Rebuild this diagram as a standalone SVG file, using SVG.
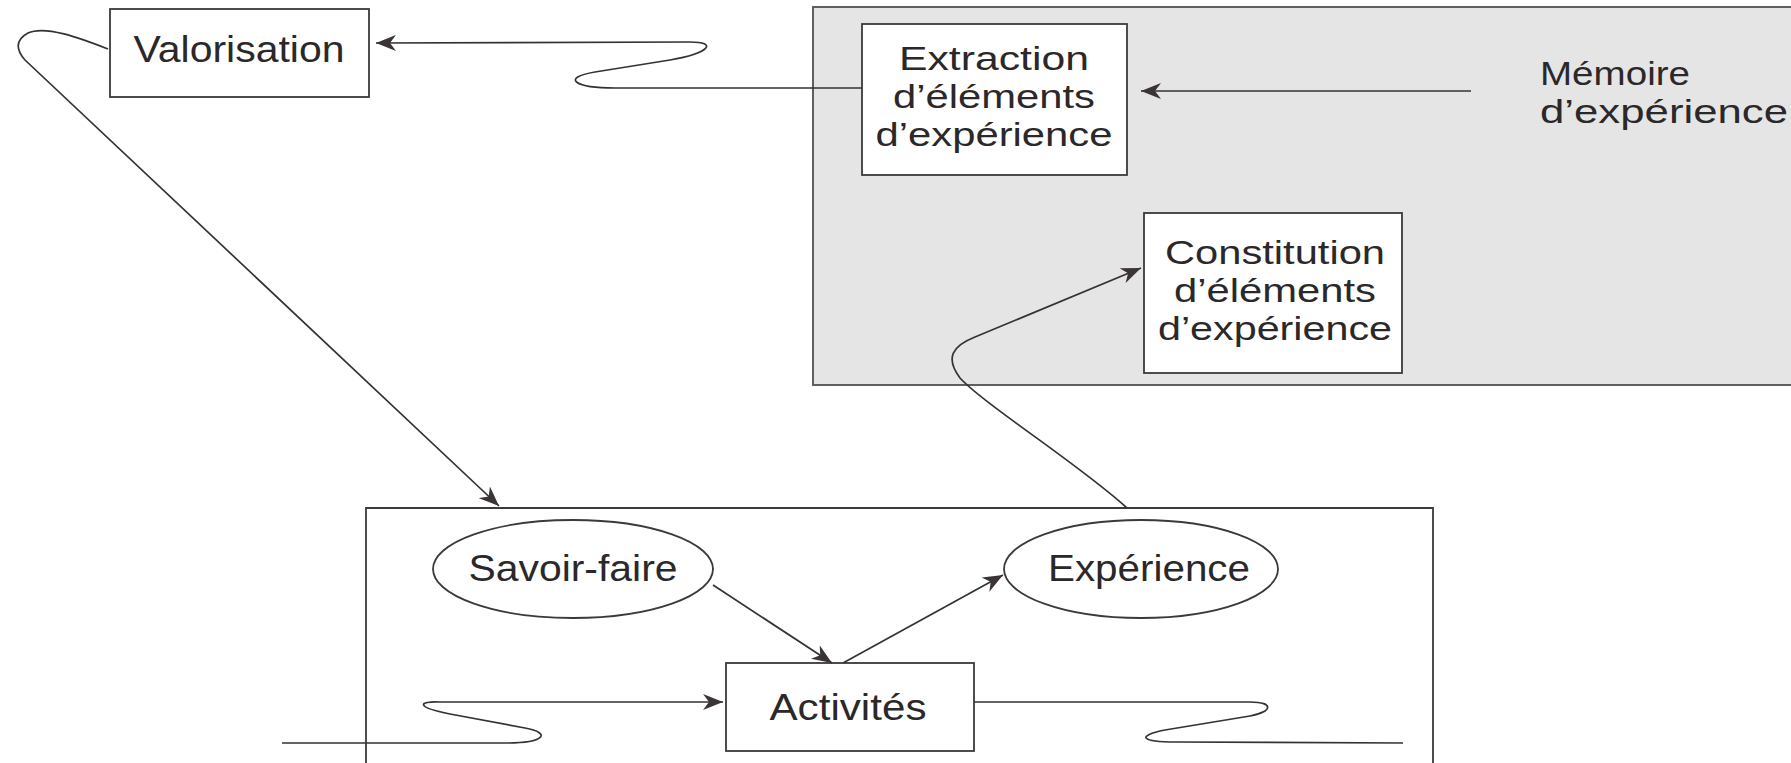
<svg xmlns="http://www.w3.org/2000/svg" width="1791" height="763" viewBox="0 0 1791 763">
<style>
  .box { fill: #ffffff; stroke: #3a3a3a; stroke-width: 1.8; }
  .zone { fill: #e5e5e5; stroke: #505050; stroke-width: 1.8; }
  .frame { fill: none; stroke: #3a3a3a; stroke-width: 1.8; }
  .lbl { font-family: "Liberation Sans", Arial, sans-serif; font-size: 36px; fill: #2b282a; text-anchor: middle; }
  .ml { font-family: "Liberation Sans", Arial, sans-serif; font-size: 34px; fill: #2b282a; text-anchor: middle; }
  .lbls { font-family: "Liberation Sans", Arial, sans-serif; font-size: 34px; fill: #2b282a; }
  .conn { fill: none; stroke: #333; stroke-width: 1.7; }
</style>
<defs>
  <marker id="arr" markerUnits="userSpaceOnUse" markerWidth="22" markerHeight="16" refX="20" refY="8" orient="auto">
    <path d="M0,0 L20,8 L0,16 L6,8 z" fill="#3a3338"/>
  </marker>
</defs>
<rect width="1791" height="763" fill="#ffffff"/>

<g id="memoire-zone">
  <rect class="zone" x="813" y="7" width="1000" height="378"/>
  <text class="lbls" x="1540" y="85" textLength="150" lengthAdjust="spacingAndGlyphs">Mémoire</text>
  <text class="lbls" x="1540" y="123" textLength="248" lengthAdjust="spacingAndGlyphs">d’expérience</text>
</g>

<g id="valorisation">
  <rect class="box" x="110" y="9" width="259" height="88"/>
  <text class="lbl" x="239" y="62" textLength="211" lengthAdjust="spacingAndGlyphs">Valorisation</text>
</g>

<g id="extraction">
  <rect class="box" x="862" y="24" width="265" height="151"/>
  <text class="ml" x="994" y="70" textLength="190" lengthAdjust="spacingAndGlyphs">Extraction</text>
  <text class="ml" x="994" y="108" textLength="202" lengthAdjust="spacingAndGlyphs">d’éléments</text>
  <text class="ml" x="994" y="146" textLength="237" lengthAdjust="spacingAndGlyphs">d’expérience</text>
</g>

<g id="constitution">
  <rect class="box" x="1144" y="213" width="258" height="160"/>
  <text class="ml" x="1275" y="264" textLength="220" lengthAdjust="spacingAndGlyphs">Constitution</text>
  <text class="ml" x="1275" y="302" textLength="202" lengthAdjust="spacingAndGlyphs">d’éléments</text>
  <text class="ml" x="1275" y="340" textLength="234" lengthAdjust="spacingAndGlyphs">d’expérience</text>
</g>

<g id="activity-frame">
  <path class="frame" d="M366,770 L366,508 L1433,508 L1433,770"/>
</g>

<g id="savoir-faire">
  <ellipse class="box" cx="573" cy="569" rx="140" ry="49"/>
  <text class="lbl" x="573" y="581" textLength="209" lengthAdjust="spacingAndGlyphs">Savoir-faire</text>
</g>

<g id="experience">
  <ellipse class="box" cx="1141" cy="569" rx="137" ry="49"/>
  <text class="lbl" x="1149" y="581" textLength="202" lengthAdjust="spacingAndGlyphs">Expérience</text>
</g>

<g id="activites">
  <rect class="box" x="726" y="663" width="248" height="88"/>
  <text class="lbl" x="848" y="720" textLength="157" lengthAdjust="spacingAndGlyphs">Activités</text>
</g>

<g id="connectors">
  <line class="conn" x1="1471" y1="91" x2="1141" y2="91" marker-end="url(#arr)"/>
  <path class="conn" d="M862,88 L615,88 C575,88 560,78 595,72 L670,60 C710,53 718,42 690,42 L376,43" marker-end="url(#arr)"/>
  <path class="conn" d="M108,49 C80,38 45,25 28,33 C15,40 16,50 25,60 L499,506" marker-end="url(#arr)"/>
  <path class="conn" d="M1127,508 C1080,465 985,405 960,378 C945,358 952,346 975,337 L1141,268" marker-end="url(#arr)"/>
  <line class="conn" x1="713" y1="585" x2="832" y2="663" marker-end="url(#arr)"/>
  <line class="conn" x1="843" y1="663" x2="1003" y2="575" marker-end="url(#arr)"/>
  <path class="conn" d="M282,743 L505,743 C545,743 552,733 525,728 L450,714 C415,707 418,701 440,702 L723,702" marker-end="url(#arr)"/>
  <path class="conn" d="M974,702 L1250,702 C1275,702 1272,712 1250,716 L1165,730 C1135,736 1142,742 1175,742 L1403,743"/>
</g>
</svg>
